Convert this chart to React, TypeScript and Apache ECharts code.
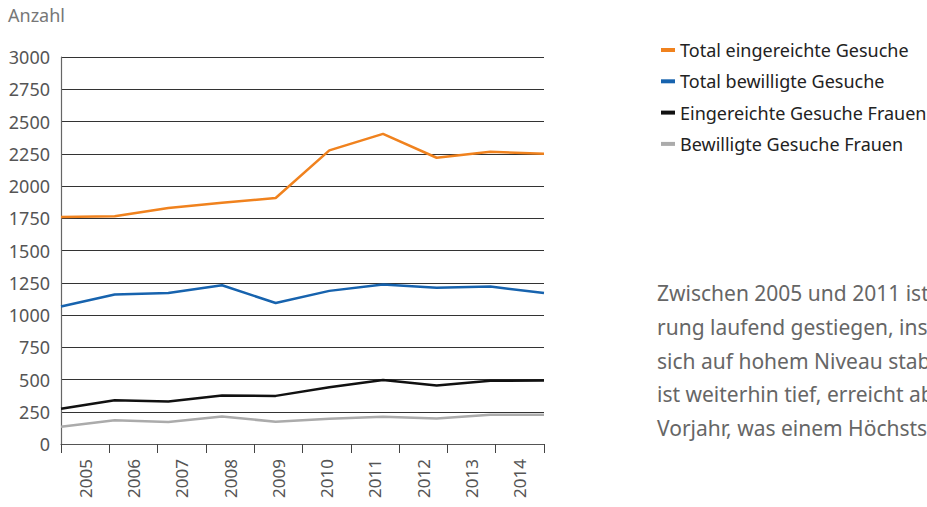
import React, { useEffect, useRef } from "react";
import * as echarts from "echarts";

const years = ["2005", "2006", "2007", "2008", "2009", "2010", "2011", "2012", "2013", "2014"];
const totalEingereicht = [1760, 1765, 1830, 1870, 1907, 2276, 2404, 2219, 2265, 2250];
const totalBewilligt = [1066, 1159, 1170, 1231, 1093, 1187, 1236, 1211, 1221, 1170];
const eingereichtFrauen = [273, 339, 329, 376, 373, 440, 497, 453, 490, 492];
const bewilligtFrauen = [134, 185, 170, 214, 172, 196, 211, 198, 227, 227];
const seriesNames = [
  "Total eingereichte Gesuche",
  "Total bewilligte Gesuche",
  "Eingereichte Gesuche Frauen",
  "Bewilligte Gesuche Frauen",
];
const paragraphLines = [
  "Zwischen 2005 und 2011 ist",
  "rung laufend gestiegen, insg",
  "sich auf hohem Niveau stab",
  "ist weiterhin tief, erreicht ab",
  "Vorjahr, was einem Höchsts",
];

const FONT = "'Noto Sans', sans-serif";

export default function App() {
  const ref = useRef<HTMLDivElement>(null);
  useEffect(() => {
    if (!ref.current) return;
    const chart = echarts.init(ref.current, null, { renderer: "svg" });
    const colors = ["#f0821e", "#1763ae", "#111111", "#ababab"];
    const dataSets = [totalEingereicht, totalBewilligt, eingereichtFrauen, bewilligtFrauen];
    chart.setOption({
      animation: false,
      textStyle: { fontFamily: FONT },
      grid: { left: 61, right: 383, top: 57, bottom: 63, containLabel: false },
      legend: {
        orient: "vertical",
        left: 656,
        top: 35,
        icon: "rect",
        itemWidth: 14,
        itemHeight: 4,
        itemGap: 11.3,
        textStyle: { fontSize: 18, color: "#222", fontFamily: FONT, lineHeight: 20 },
        data: seriesNames,
      },
      xAxis: [
        {
          type: "category",
          data: years,
          boundaryGap: true,
          axisLine: { lineStyle: { color: "#555", width: 1.2 } },
          axisTick: { show: true, length: 9, lineStyle: { color: "#444" } },
          axisLabel: { rotate: 90, margin: 15, fontSize: 17, color: "#555", fontFamily: FONT },
          splitLine: { show: false },
        },
        {
          type: "category",
          data: years,
          boundaryGap: false,
          show: false,
        },
      ],
      yAxis: {
        type: "value",
        min: 0,
        max: 3000,
        interval: 250,
        axisLine: { show: true, lineStyle: { color: "#666", width: 1.2 } },
        axisTick: { show: false },
        axisLabel: {
          fontSize: 18,
          color: "#555",
          margin: 11,
          fontFamily: FONT,
          formatter: (v: number) => String(v),
        },
        splitLine: { lineStyle: { color: "#333", width: 1 } },
      },
      series: seriesNames.map((name, i) => ({
        name,
        type: "line",
        xAxisIndex: 1,
        data: dataSets[i],
        symbol: "none",
        lineStyle: { color: colors[i], width: 2.5 },
        itemStyle: { color: colors[i] },
        z: 10 - i,
      })),
      graphic: [
        {
          type: "text",
          left: 8,
          top: 6,
          style: { text: "Anzahl", fontSize: 18, fill: "#777", fontFamily: FONT },
        },
        ...paragraphLines.map((t, i) => ({
          type: "text",
          x: 657,
          y: 293 + i * 33.8,
          style: {
            text: t,
            fontSize: 21,
            fill: "#666",
            fontFamily: FONT,
            verticalAlign: "middle",
          },
        })),
      ],
    });
    return () => chart.dispose();
  }, []);
  return (
    <div
      ref={ref}
      style={{ position: "fixed", left: 0, top: 0, width: 927, height: 507, background: "#fff" }}
    />
  );
}
